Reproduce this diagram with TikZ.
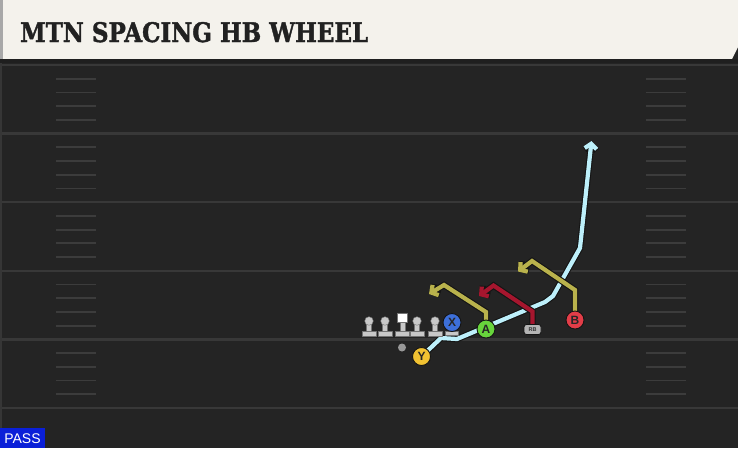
\documentclass[tikz,border=0pt]{standalone}
\usepackage{graphicx}
\usepackage{fontspec}
\usepackage{tikz}
\usetikzlibrary{arrows.meta}
\newfontfamily\titlefont{DejaVu Serif}[UprightFont=* Bold,FakeBold=1.6]
\newfontfamily\playfont{Liberation Sans}
\definecolor{fieldgr}{HTML}{242424}
\definecolor{yardgr}{HTML}{383838}
\definecolor{hashgr}{HTML}{3C3C3C}
\definecolor{headcr}{HTML}{F4F2EC}
\definecolor{headgr}{HTML}{A8A8A8}
\definecolor{edgegr}{HTML}{363636}
\definecolor{routeedge}{HTML}{141414}
\definecolor{routeblue}{HTML}{BDF0FB}
\definecolor{routeolive}{HTML}{B9B24C}
\definecolor{routered}{HTML}{A6162E}
\definecolor{playblue}{HTML}{3D6FD9}
\definecolor{playgreen}{HTML}{67D43C}
\definecolor{playyellow}{HTML}{F1C232}
\definecolor{playred}{HTML}{E23D48}
\definecolor{linegr}{HTML}{C8C8C8}
\definecolor{passblue}{HTML}{0A1FD8}
\pgfdeclarelayer{rt}
\pgfsetlayers{rt,main}

\begin{document}
\begin{tikzpicture}[x=1pt,y=-1pt,line cap=round,line join=round,
  yard/.style={line width=2.4pt,color=yardgr},
  hash/.style={line width=1.8pt,color=hashgr},
  route/.style={line width=4.2pt,preaction={draw=routeedge,line width=6.4pt}},
  tip/.style={-{Straight Barb[length=5pt,width=12pt]}},
  player/.style={circle,draw=routeedge,line width=0.9pt,minimum size=18pt,inner sep=0pt,
    font=\playfont\bfseries\fontsize{12}{12}\selectfont,text=black!85},
  lineman/.style={fill=linegr,draw=black!55,line width=0.4pt}]
\useasboundingbox (0,0) rectangle (738,448);
\begin{pgfonlayer}{rt}
% field
\fill[fieldgr] (0,0) rectangle (738,448);
\fill[edgegr] (0,62) rectangle (2,448);
\foreach \yy in {65,133.6,202.2,270.8,339.4,408}
  \draw[yard] (2,\yy) -- (738,\yy);
\foreach \yy in {65,133.6,202.2,270.8,339.4}
  \foreach \k in {1,...,4} {
    \draw[hash] (56,\yy+13.72*\k) -- (96,\yy+13.72*\k);
    \draw[hash] (646,\yy+13.72*\k) -- (686,\yy+13.72*\k);
  }
\end{pgfonlayer}
% header
\fill[headcr] (0,0) -- (738,0) -- (738,47) -- (732,59) -- (0,59) -- cycle;
\fill[headgr] (0,0) rectangle (3,59);
\fill[black!88] (0,59) rectangle (738,62.5);
\node[anchor=base west,inner sep=0pt,text=black!87] (title) at (20,42)
  {\resizebox{348pt}{20pt}{\titlefont MTN SPACING HB WHEEL}};
% line
\foreach \lx in {369,385,417,435} {
  \draw[lineman] (\lx-2.5,322) rectangle (\lx+2.5,332);
  \draw[lineman] (\lx-7,331.5) rectangle (\lx+7,336);
  \draw[lineman] (\lx,321) circle (4.3);
}
\draw[lineman] (400,321) rectangle (405,332);
\draw[lineman] (395.5,331.5) rectangle (409.5,336);
\draw[fill=white,draw=black!55,line width=0.4pt] (397.5,313.5) rectangle (407,322);
\draw[lineman] (445,331.5) rectangle (458,335);
\fill[gray!80] (402,347.5) circle (4);
% players
\node[player,fill=playblue] (X) at (452,322.5) {X};
\node[player,fill=playyellow] (Y) at (421.5,356.5) {Y};
\node[player,fill=playgreen] (A) at (486,329) {A};
\node[player,fill=playred] (B) at (575,320) {B};
\node[draw=routeedge,fill=linegr!90!black,rounded corners=2.5pt,line width=0.8pt,
  minimum width=17pt,minimum height=10pt,inner sep=0pt,
  font=\playfont\bfseries\fontsize{5.5}{5.5}\selectfont,text=black!80] (RB) at (532.5,329.5) {RB};
% routes
\begin{pgfonlayer}{rt}
\draw[route,tip,routeblue] (Y.center) -- (441,338) -- (457,339) -- (545,302)
  -- (553,296) -- (580,248) -- (591.5,141);
\draw[route,tip,routered] (RB.center) -- (532.5,311.5) -- (493.5,285.5) -- (479,296);
\draw[route,tip,routeolive] (A.center) -- (486,312) -- (444,285) -- (429,294);
\draw[route,tip,routeolive] (B.center) -- (575,290) -- (532,261) -- (518,271.5);
\end{pgfonlayer}
% play type
\fill[passblue] (0,428) rectangle (45,448);
\node[text=white,font=\playfont\fontsize{14}{14}\selectfont,inner sep=0pt] (pass) at (22.5,438.5) {PASS};
\end{tikzpicture}
\end{document}
